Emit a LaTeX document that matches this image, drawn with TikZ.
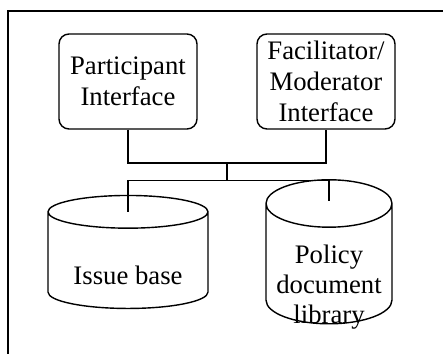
\documentclass[tikz,border=0pt]{standalone}
\usepackage{fontspec}
\setmainfont{Liberation Serif}
\usetikzlibrary{shapes.geometric}

% text set lower than the node centre, takes no room
\newcommand\sunk[2]{\raisebox{-#1}[0pt][0pt]{%
  \renewcommand\arraystretch{.96}\begin{tabular}{@{}c@{}}#2\end{tabular}}}

\tikzset{
  iface/.style={draw, rounded corners=.2cm, minimum width=2.76cm, minimum height=1.9cm,
    align=center, inner sep=0pt},
  store/.style={draw, cylinder, shape border rotate=90, inner sep=0pt},
}

\begin{document}
\begin{tikzpicture}[line width=.8pt, font=\fontsize{15.2}{17.8}\selectfont]
\useasboundingbox (0,0) rectangle (8.86,7.08);

% frame
\draw (0.16,0) |- (8.86,6.86);

% interfaces
\node[iface] (part)  at (2.56,5.45) {Participant\\Interface};
\node[iface] (facil) at (6.52,5.45) {Facilitator/\\Moderator\\Interface};

% data stores
\node[store, minimum width=3.2cm, minimum height=2.26cm, aspect=.3] (issue)
  at (2.56,1.87) {\sunk{0.48cm}{Issue base}};
\node[store, minimum width=2.52cm, minimum height=2.88cm, aspect=.45] (policy)
  at (6.58,1.8) {\sunk{0.6cm}{Policy\\document\\library}};

\coordinate (upper) at (4.54,3.82);
\coordinate (lower) at (4.54,3.47);
\coordinate (issuein)  at ([yshift=-0.34cm]issue.north);
\coordinate (policyin) at ([yshift=-0.44cm]policy.north);

% bus
\draw (part.south) |- (upper) -| (facil.south);
\draw (upper) -- (lower);
\draw (issuein) |- (lower) -| (policyin);
\end{tikzpicture}
\end{document}
